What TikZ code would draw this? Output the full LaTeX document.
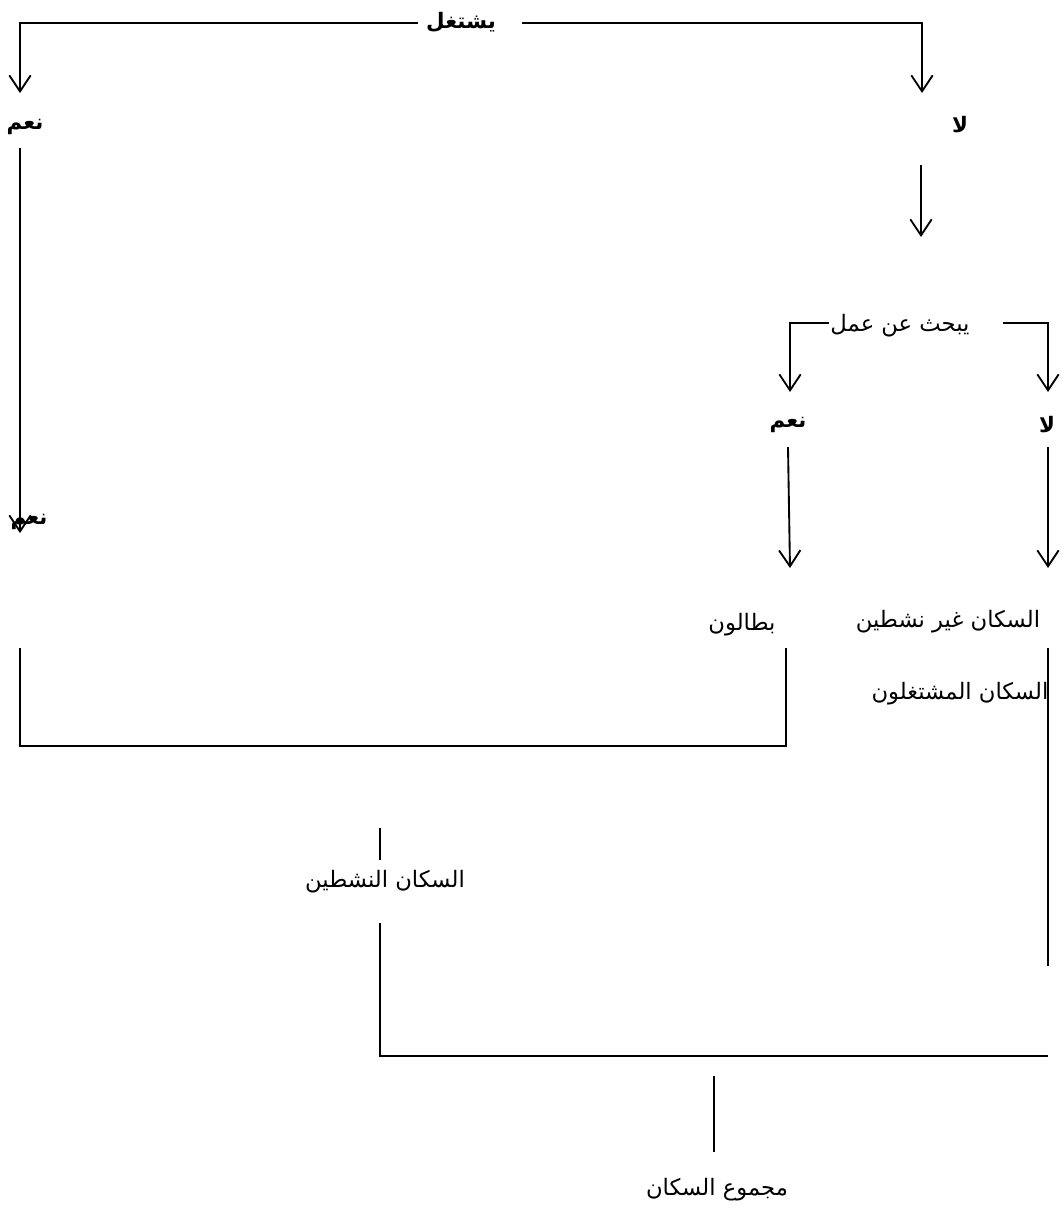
\documentclass[tikz,border=0pt]{standalone}
\usepackage{fontspec}
\newfontfamily\arabicfont[Script=Arabic]{DejaVu Sans}
\TeXXeTstate=1
\usetikzlibrary{arrows.meta, positioning}
\newcommand{\arabtxt}[1]{\beginR #1\endR}

\begin{document}
\begin{tikzpicture}[
    x=0.75pt, y=-0.75pt,
    lbl/.style={font=\arabicfont\fontsize{17}{20}\selectfont, inner sep=0pt},
    lblbold/.style={font=\arabicfont\bfseries\fontsize{16}{19}\selectfont, inner sep=0pt},
    link/.style={line width=1.4pt},
    arrowlink/.style={link, -{Straight Barb[length=12pt, width=16pt, line width=1.4pt]}}
]
\useasboundingbox (0,0) rectangle (1062,1218);

% first question
\node[lblbold] (works) at (461,22) {\arabtxt{يشتغل}};
\node[lblbold] (yesA) at (25,127) {\arabtxt{نعم}};
\node[lblbold] (noA) at (960,125) {\arabtxt{لا}};
\node[lblbold] (yesB) at (29,522) {\arabtxt{نعم}};
\coordinate (worksL) at (418,23);
\coordinate (worksR) at (522,23);
\coordinate (yesAtip) at (20,93);
\coordinate (noAtip) at (922,93);
\draw[arrowlink] (worksL) -| (yesAtip);
\draw[arrowlink] (worksR) -| (noAtip);
\draw[arrowlink] (20,148) coordinate (yesAbot) -- (20,533) coordinate (yesBtip);
\draw[arrowlink] (921,165) coordinate (noAbot) -- (921,237) coordinate (seekTop);

% second question
\node[lbl] (seek) at (900,326) {\arabtxt{يبحث عن عمل}};
\node[lblbold] (yesC) at (788,425) {\arabtxt{نعم}};
\node[lblbold] (noC) at (1047,425) {\arabtxt{لا}};
\coordinate (seekL) at (829,323);
\coordinate (seekR) at (1003,323);
\draw[arrowlink] (seekL) -| (790,392) coordinate (yesCtip);
\draw[arrowlink] (seekR) -| (1048,392) coordinate (noCtip);
\draw[arrowlink] (788,447) coordinate (yesCbot) -- (790,568) coordinate (unempTip);
\draw[arrowlink] (1048,447) coordinate (noCbot) -- (1048,568) coordinate (inactTip);

% groups
\node[lbl] (unemp) at (742,625) {\arabtxt{بطالون}};
\node[lbl] (inact) at (948,622) {\arabtxt{السكان غير نشطين}};
\node[lbl] (employed) at (960,694) {\arabtxt{السكان المشتغلون}};
\node[lbl] (active) at (385,882) {\arabtxt{السكان النشطين}};
\node[lbl] (total) at (717,1190) {\arabtxt{مجموع السكان}};

% brackets
\draw[link] (20,648) -- (20,746) -- (786,746) -- (786,648);
\draw[link] (1048,648) -- (1048,966);
\draw[link] (380,828) -- (380,860);
\draw[link] (380,923) -- (380,1056) -- (1048,1056);
\draw[link] (714,1076) -- (714,1152);
\end{tikzpicture}
\end{document}
